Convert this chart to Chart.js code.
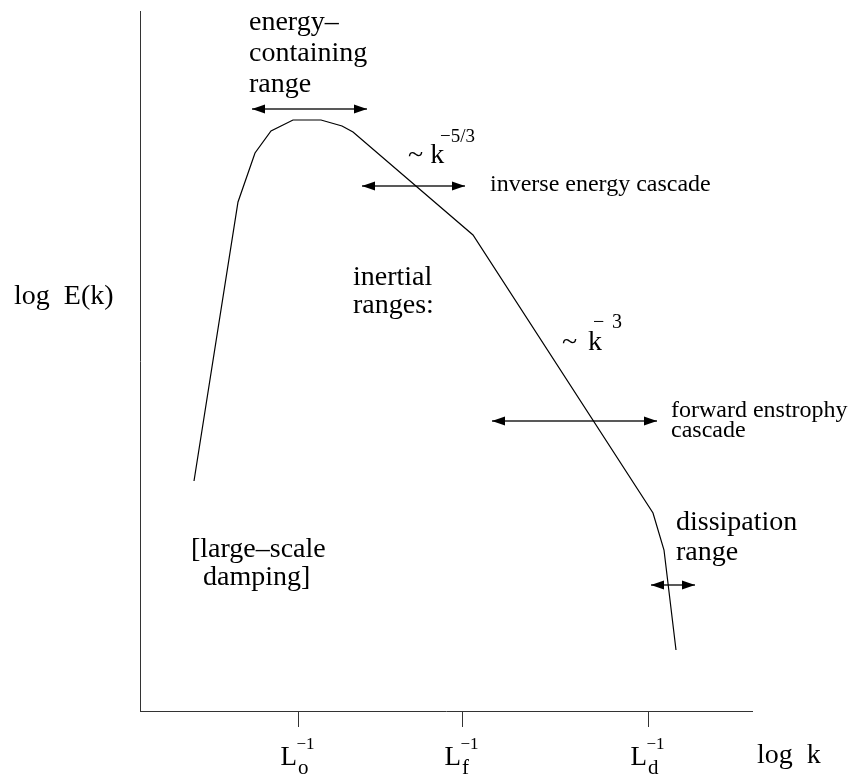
<!DOCTYPE html>
<html>
<head>
<meta charset="utf-8">
<style>
  html, body { margin: 0; padding: 0; background: #fff; }
  canvas { display: block; }
</style>
<script src="https://cdn.jsdelivr.net/npm/chart.js@4/dist/chart.umd.min.js"></script>
</head>
<body>
<canvas id="spectrum" width="861" height="780"></canvas>
<script>
// Schematic energy spectrum of 2-D turbulence: log E(k) against log k.
// Both axes run in arbitrary log units (0..612 along k, 0..700 along E).

// spectrum curve
const LOG_K = [54, 98, 115, 131, 153, 181, 202, 213, 333, 513, 524, 536];
const LOG_E = [230, 509, 558, 580, 591, 591, 585, 579, 476, 198, 161, 61];

// wavenumber ticks L^-1 with their subscripts
const K_TICKS = [158, 322, 508];
const TICK_SUBS = ['o', 'f', 'd'];

// double-headed range arrows
const ARROW_FROM  = [112, 222, 352, 511];
const ARROW_TO    = [227, 325, 517, 555];
const ARROW_LEVEL = [602, 525, 290, 126];

// text notes, anchored in axis units (left edge, baseline)
const NOTES = [
  { t: 'energy–',                x: 109, y: 681, s: 28 },
  { t: 'containing',             x: 109, y: 650, s: 28 },
  { t: 'range',                  x: 109, y: 619, s: 28 },
  { t: '~ k',                    x: 268, y: 548, s: 28 },
  { t: '−5/3',                   x: 300, y: 569, s: 19 },
  { t: 'inverse energy cascade', x: 350, y: 520, s: 24 },
  { t: 'inertial',               x: 213, y: 426, s: 28 },
  { t: 'ranges:',                x: 213, y: 398, s: 28 },
  { t: '~',                      x: 422, y: 361, s: 28 },
  { t: 'k',                      x: 448, y: 361, s: 28 },
  { t: '−',                      x: 453, y: 383, s: 20 },
  { t: '3',                      x: 472, y: 383, s: 20 },
  { t: 'forward enstrophy',      x: 531, y: 294, s: 24 },
  { t: 'cascade',                x: 531, y: 274, s: 24 },
  { t: 'dissipation',            x: 536, y: 181, s: 28 },
  { t: 'range',                  x: 536, y: 151, s: 28 },
  { t: '[large–scale',           x: 51,  y: 154, s: 28 },
  { t: 'damping]',               x: 63,  y: 126, s: 28 },
  { t: 'log  E(k)',              x: -126, y: 407, s: 28 },
  { t: 'log  k',                 x: 617, y: -52, s: 28 }
];

const SERIF = '"Liberation Serif", "Times New Roman", serif';

const curve = LOG_K.map((k, i) => ({ x: k, y: LOG_E[i] }));

const arrowSets = ARROW_FROM.map((a, i) => ({
  data: [{ x: a, y: ARROW_LEVEL[i] }, { x: ARROW_TO[i], y: ARROW_LEVEL[i] }],
  showLine: true,
  borderColor: '#222',
  borderWidth: 1.5,
  pointRadius: 0
}));

function arrowHead(ctx, tipX, tipY, dir) {
  const len = 13, half = 4.5;
  ctx.beginPath();
  ctx.moveTo(tipX, tipY);
  ctx.lineTo(tipX - dir * len, tipY - half);
  ctx.lineTo(tipX - dir * len, tipY + half);
  ctx.closePath();
  ctx.fill();
}

const annotate = {
  id: 'annotate',
  afterDraw(chart) {
    const { ctx } = chart;
    const xs = chart.scales.x, ys = chart.scales.y;
    ctx.save();
    ctx.fillStyle = '#000';

    // arrow heads at both ends of every range arrow
    ARROW_FROM.forEach((a, i) => {
      const py = ys.getPixelForValue(ARROW_LEVEL[i]);
      arrowHead(ctx, xs.getPixelForValue(a), py, -1);
      arrowHead(ctx, xs.getPixelForValue(ARROW_TO[i]), py, 1);
    });

    // free text
    ctx.textBaseline = 'alphabetic';
    ctx.textAlign = 'left';
    NOTES.forEach(n => {
      ctx.font = n.s + 'px ' + SERIF;
      ctx.fillText(n.t, xs.getPixelForValue(n.x), ys.getPixelForValue(n.y));
    });

    // tick labels  L_sub^-1
    K_TICKS.forEach((k, i) => {
      const px = xs.getPixelForValue(k);
      ctx.font = '27px ' + SERIF;
      ctx.textAlign = 'right';
      ctx.fillText('L', px - 1, ys.getPixelForValue(-54));
      ctx.textAlign = 'left';
      ctx.font = '17px ' + SERIF;
      ctx.fillText('−1', px - 1.5, ys.getPixelForValue(-38));
      ctx.font = '21px ' + SERIF;
      ctx.fillText(TICK_SUBS[i], px, ys.getPixelForValue(-63));
    });
    ctx.restore();
  }
};

new Chart(document.getElementById('spectrum'), {
  type: 'scatter',
  data: {
    datasets: [
      {
        data: curve,
        showLine: true,
        borderColor: '#000',
        borderWidth: 1.2,
        pointRadius: 0,
        tension: 0
      },
      ...arrowSets
    ]
  },
  options: {
    responsive: false,
    animation: false,
    events: [],
    layout: { padding: { top: 11, right: 109, bottom: 0, left: 0 } },
    plugins: { legend: { display: false }, tooltip: { enabled: false } },
    scales: {
      x: {
        type: 'linear',
        min: 0,
        max: 612,
        afterBuildTicks: s => { s.ticks = K_TICKS.map(v => ({ value: v })); },
        afterFit: s => { s.height = 69; },
        ticks: { display: false },
        grid: {
          display: true,
          drawOnChartArea: false,
          drawTicks: true,
          tickLength: 16,
          color: '#333',
          lineWidth: 1
        },
        border: { display: true, color: '#333', width: 1 }
      },
      y: {
        type: 'linear',
        min: 0,
        max: 700,
        afterFit: s => { s.width = 140; },
        ticks: { display: false },
        grid: { display: false },
        border: { display: true, color: '#333', width: 1 }
      }
    }
  },
  plugins: [annotate]
});
</script>
</body>
</html>
